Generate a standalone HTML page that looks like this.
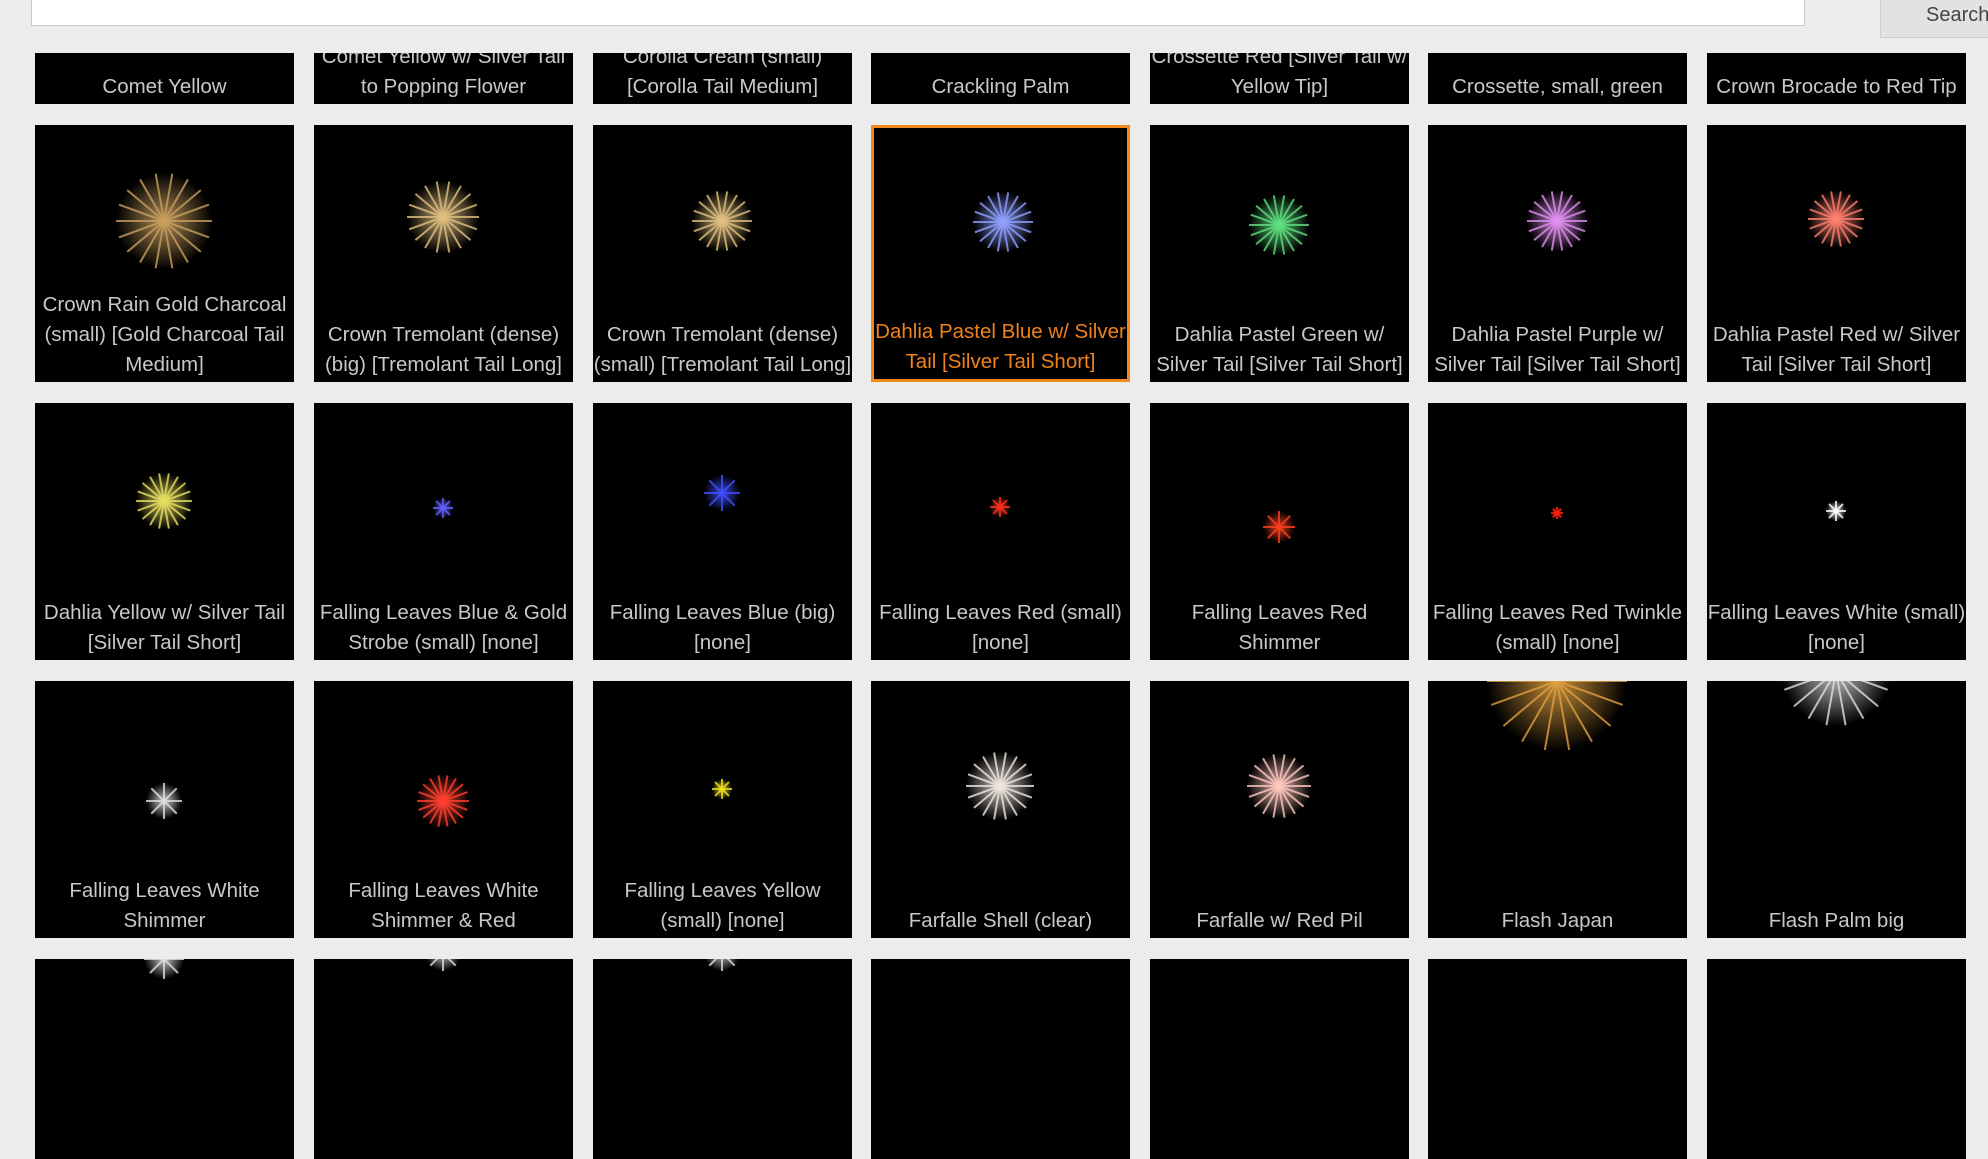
<!DOCTYPE html>
<html><head><meta charset="utf-8">
<style>
html,body{margin:0;padding:0;width:1988px;height:1132px;overflow:hidden;background:#ececec;font-family:"Liberation Sans",sans-serif;}
#search{position:absolute;left:31px;top:-4px;width:1772px;height:28px;background:#fff;border:1px solid #c8c8c8;}
#sbtn{position:absolute;left:1880px;top:-4px;width:120px;height:42px;background:#e2e2e2;border:1px solid #ccc;color:#444;font-size:20px;line-height:36px;padding-left:45px;box-sizing:border-box;}
.tile{position:absolute;width:259px;background:#000;overflow:hidden;box-sizing:border-box;}
.tile svg{position:absolute;left:0;top:0;}
.lbl{position:absolute;left:-2px;right:-2px;bottom:2px;text-align:center;color:#c8c8c8;font-size:20.5px;line-height:30px;padding:0;white-space:normal;}
.sel{border:3px solid #f08a1c;}
.sel .lbl{color:#f0821c;}
</style></head><body>
<div id="search"></div>
<div id="sbtn">Search</div>
<div id="grid"></div>
<script>
const labels=[
["Comet Yellow","Comet Yellow w/ Silver Tail to Popping Flower","Corolla Cream (small) [Corolla Tail Medium]","Crackling Palm","Crossette Red [Silver Tail w/ Yellow Tip]","Crossette, small, green","Crown Brocade to Red Tip"],
["Crown Rain Gold Charcoal (small) [Gold Charcoal Tail Medium]","Crown Tremolant (dense) (big) [Tremolant Tail Long]","Crown Tremolant (dense) (small) [Tremolant Tail Long]","Dahlia Pastel Blue w/ Silver Tail [Silver Tail Short]","Dahlia Pastel Green w/ Silver Tail [Silver Tail Short]","Dahlia Pastel Purple w/ Silver Tail [Silver Tail Short]","Dahlia Pastel Red w/ Silver Tail [Silver Tail Short]"],
["Dahlia Yellow w/ Silver Tail [Silver Tail Short]","Falling Leaves Blue & Gold Strobe (small) [none]","Falling Leaves Blue (big) [none]","Falling Leaves Red (small) [none]","Falling Leaves Red Shimmer","Falling Leaves Red Twinkle (small) [none]","Falling Leaves White (small) [none]"],
["Falling Leaves White Shimmer","Falling Leaves White Shimmer & Red","Falling Leaves Yellow (small) [none]","Farfalle Shell (clear)","Farfalle w/ Red Pil","Flash Japan","Flash Palm big"],
["","","","","","",""]];
const bursts=[
[null,null,null,null,null,null,null],
[["#c9a060",48,96],["#e0c080",36,92],["#e0c080",30,96],["#8fa0ff",30,94],["#60e080",30,100],["#e090f0",30,96],["#ff8070",28,94]],
[["#e8e060",28,98],["#6060ff",10,105],["#4050ff",18,90],["#ff3020",10,104],["#ff4020",16,124],["#ff2010",6,110],["#ffffff",10,108]],
[["#e0e0e0",18,120],["#ff4030",26,120],["#f0e020",10,108],["#f0e8e0",34,105],["#ffc8c0",32,105],["#e0a040",70,0],["#e0e0e0",55,-10]],
[["#e0e0e0",20,0],["#e0e0e0",18,-6],["#e0e0e0",18,-6],null,null,null,null]];
const colX=[35,314,593,871,1150,1428,1707];
const rowY=[53,125,403,681,959];
const rowH=[51,257,257,257,200];
const g=document.getElementById('grid');
for(let r=0;r<5;r++)for(let c=0;c<7;c++){
  const t=document.createElement('div');
  
  
  t.className='tile'+(r==1&&c==3?' sel':'');
  t.style.left=colX[c]+'px';t.style.top=rowY[r]+'px';t.style.height=rowH[r]+'px';
  const b=bursts[r][c];
  if(b){
    const [col,rad,dy]=b;const cx=129;
    let s='<svg width="259" height="'+rowH[r]+'">';
    s+='<defs><radialGradient id="g'+r+c+'"><stop offset="0" stop-color="'+col+'" stop-opacity="0.9"/><stop offset="1" stop-color="'+col+'" stop-opacity="0"/></radialGradient></defs>';
    s+='<circle cx="'+cx+'" cy="'+dy+'" r="'+rad+'" fill="url(#g'+r+c+')"/>';
    const n=rad>20?18:8;
    for(let i=0;i<n;i++){const a=i*2*Math.PI/n;s+='<line x1="'+cx+'" y1="'+dy+'" x2="'+(cx+Math.cos(a)*rad)+'" y2="'+(dy+Math.sin(a)*rad)+'" stroke="'+col+'" stroke-width="2" opacity="0.8"/>';}
    s+='</svg>';t.innerHTML=s;
  }
  if(labels[r][c]){const l=document.createElement('div');
    
    
    l.className='lbl';l.textContent=labels[r][c];t.appendChild(l);}
  g.appendChild(t);
}
</script>
</body></html>
